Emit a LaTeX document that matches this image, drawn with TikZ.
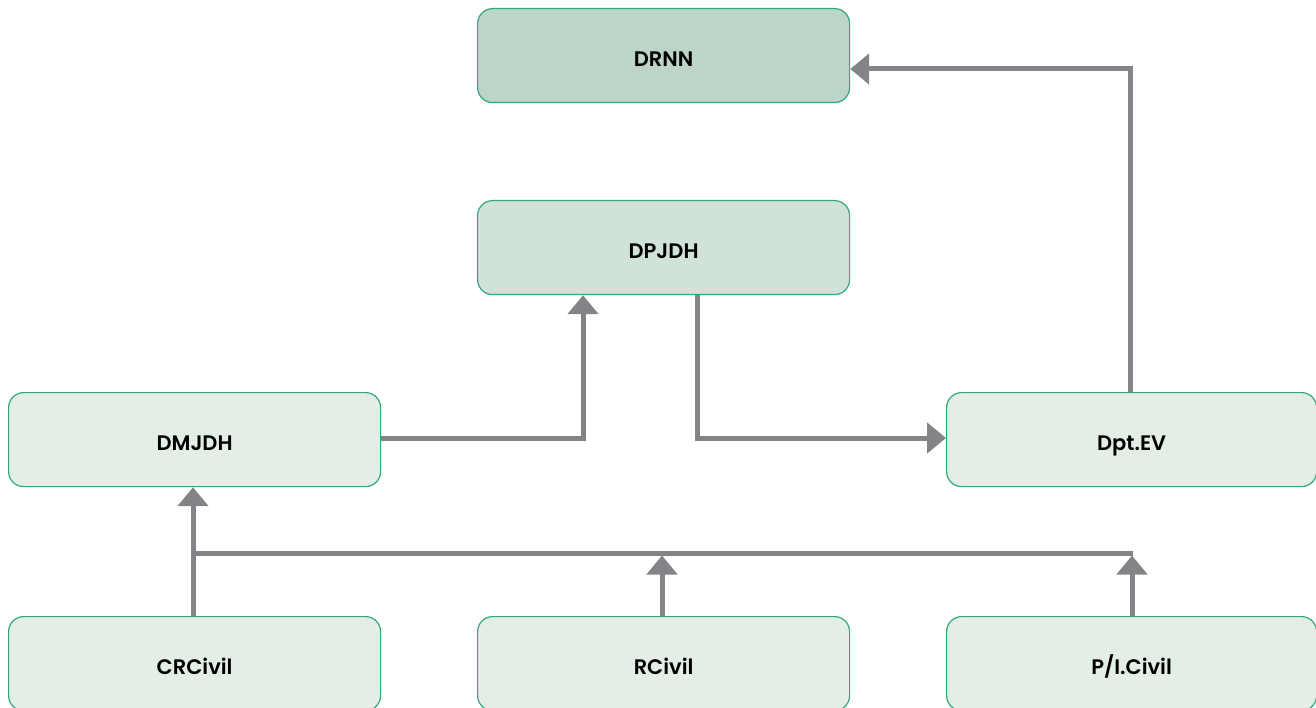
\documentclass[tikz,border=0pt]{standalone}
\usepackage{fontspec}
\setmainfont{Poppins}[BoldFont={Poppins SemiBold}]
\usetikzlibrary{arrows.meta}
\definecolor{bordergreen}{HTML}{34A87C}
\definecolor{filltop}{HTML}{BCD5C8}
\definecolor{fillmid}{HTML}{D1E2D8}
\definecolor{filllow}{HTML}{E3EEE6}
\definecolor{arrowgray}{HTML}{848488}
\tikzset{
  box/.style={draw=bordergreen, line width=1.2pt, rounded corners=15pt,
    minimum width=372pt, minimum height=94pt, inner sep=0pt,
    text height=22pt, text depth=0pt,
    font=\fontsize{21}{24}\selectfont\bfseries, text=black, anchor=north west},
  conn/.style={draw=arrowgray, line width=5pt},
  arr/.style={conn, -{Triangle[length=19pt,width=30pt]}}
}
\begin{document}
\begin{tikzpicture}[x=1pt,y=-1pt]
\useasboundingbox (0,0) rectangle (1316,708);
\node[box, fill=filltop] (drnn) at (477,8) {DRNN};
\node[box, fill=fillmid] (dpjdh) at (477,200) {DPJDH};
\node[box, fill=filllow] (dmjdh) at (8,392) {DMJDH};
\node[box, fill=filllow, minimum width=370pt] (dpt) at (946,392) {Dpt.EV};
\node[box, fill=filllow] (cr) at (8,616) {CRCivil};
\node[box, fill=filllow] (rc) at (477,616) {RCivil};
\node[box, fill=filllow, minimum width=370pt] (pi) at (946,616) {P/I.Civil};
\coordinate (bus) at (193,553);
\coordinate (busend) at (1133,553);
\draw[arr] (dmjdh.east |- 0,438) -- (583,438) -- (583,0 |- dpjdh.south);
\draw[arr] (697,0 |- dpjdh.south) -- (697,438) -- (dpt.west |- 0,438);
\draw[arr] (1130,0 |- dpt.north) -- (1130,69) -- (drnn.east |- 0,69);
\draw[arr] (193,0 |- cr.north) -- (193,0 |- dmjdh.south);
\draw[conn] (bus) -- (busend);
\draw[arr] (662,0 |- rc.north) -- (662,555.5);
\draw[arr] (1132,0 |- pi.north) -- (1132,555.5);
\end{tikzpicture}
\end{document}
